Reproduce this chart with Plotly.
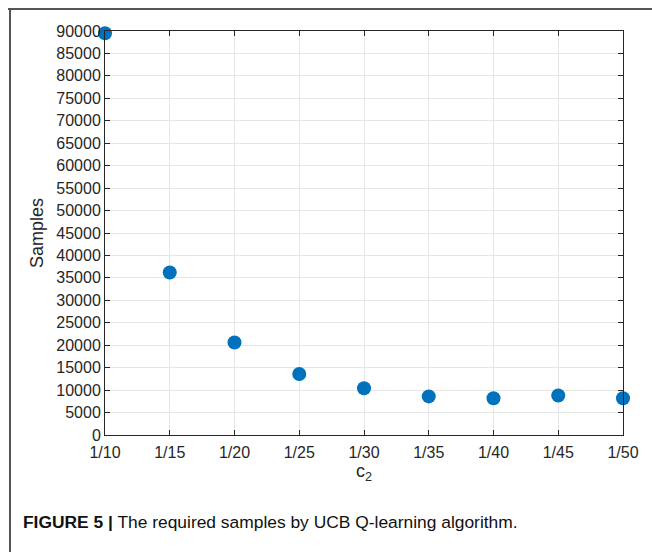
import plotly.graph_objects as go

categories = ["1/10", "1/15", "1/20", "1/25", "1/30", "1/35", "1/40", "1/45", "1/50"]
samples = [89500, 36200, 20600, 13600, 10400, 8600, 8200, 8800, 8200]
y_ticks = list(range(0, 90001, 5000))

W, H = 652, 552
L, R, T, B = 105, 29, 31, 117
pw, ph = W - L - R, H - T - B

def px(x):
    return (x - L) / pw

def py(y):
    return (H - B - y) / ph

fig = go.Figure()
fig.add_trace(go.Scatter(
    x=list(range(len(categories))), y=samples, mode="markers",
    marker=dict(color="#0072BD", size=14, line=dict(width=0)),
    cliponaxis=False, showlegend=False, hoverinfo="skip",
))

axis_common = dict(
    showline=True, linecolor="#262626", linewidth=1, mirror="allticks",
    ticks="inside", ticklen=5, tickcolor="#262626",
    showgrid=True, gridcolor="#e6e6e6", gridwidth=1, zeroline=False,
    tickfont=dict(family="Liberation Sans, Arial", size=16, color="#262626"),
)

fig.update_layout(
    width=W, height=H,
    margin=dict(l=L, r=R, t=T, b=B),
    paper_bgcolor="white", plot_bgcolor="white",
    xaxis=dict(range=[0, 8], tickvals=list(range(len(categories))), ticktext=categories,
               ticklabelstandoff=3,
               title=dict(text="c<sub>2</sub>", font=dict(family="Liberation Sans, Arial", size=18, color="#262626"), standoff=4),
               **axis_common),
    yaxis=dict(range=[0, 90000], tickvals=y_ticks, ticktext=[str(v) for v in y_ticks],
               title=dict(text="Samples", font=dict(family="Liberation Sans, Arial", size=18, color="#262626"), standoff=7),
               **axis_common),
    shapes=[
        dict(type="line", xref="paper", yref="paper", x0=px(8), x1=px(652), y0=py(9), y1=py(9),
             line=dict(color="#555555", width=2)),
        dict(type="line", xref="paper", yref="paper", x0=px(10), x1=px(10), y0=py(8), y1=py(552),
             line=dict(color="#555555", width=2)),
    ],
    annotations=[
        dict(xref="paper", yref="paper", x=px(21), y=py(522), xanchor="left", yanchor="middle",
             showarrow=False,
             text="<b>FIGURE 5 |</b> The required samples by UCB Q-learning algorithm.",
             font=dict(family="Liberation Sans, Arial", size=17.4, color="#111111")),
    ],
)

fig.write_html("out.html", config={"displayModeBar": False},
               post_script="document.body.style.margin='0';document.body.style.overflow='hidden';")
